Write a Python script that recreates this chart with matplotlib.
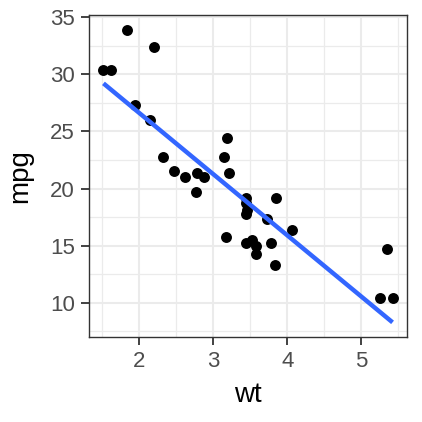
import matplotlib
matplotlib.use("Agg")
import matplotlib.pyplot as plt
import numpy as np

# mtcars: weight (1000 lbs) and miles per gallon
wt = [2.620, 2.875, 2.320, 3.215, 3.440, 3.460, 3.570, 3.190, 3.150, 3.440, 3.440,
      4.070, 3.730, 3.780, 5.250, 5.424, 5.345, 2.200, 1.615, 1.835, 2.465, 3.520,
      3.435, 3.840, 3.845, 1.935, 2.140, 1.513, 3.170, 2.770, 3.570, 2.780]
mpg = [21.0, 21.0, 22.8, 21.4, 18.7, 18.1, 14.3, 24.4, 22.8, 19.2, 17.8,
       16.4, 17.3, 15.2, 10.4, 10.4, 14.7, 32.4, 30.4, 33.9, 21.5, 15.5,
       15.2, 13.3, 19.2, 27.3, 26.0, 30.4, 15.8, 19.7, 15.0, 21.4]
x_ticks = [2, 3, 4, 5]
y_ticks = [10, 15, 20, 25, 30, 35]

plt.rcParams['font.family'] = ['Liberation Sans', 'DejaVu Sans']

x = np.array(wt)
y = np.array(mpg)
slope, intercept = np.polyfit(x, y, 1)
xf = np.linspace(x.min(), x.max(), 80)
yf = intercept + slope * xf

fig = plt.figure(figsize=(4.22, 4.22), dpi=100)
ax = fig.add_axes([89 / 422, 1 - 337 / 422, (407 - 89) / 422, (337 - 15) / 422])

# ggplot-style 5% expansion
xlo, xhi = x.min(), x.max()
ylo, yhi = min(y.min(), yf.min()), max(y.max(), yf.max())
ax.set_xlim(xlo - 0.05 * (xhi - xlo), xhi + 0.05 * (xhi - xlo))
ax.set_ylim(ylo - 0.05 * (yhi - ylo), yhi + 0.05 * (yhi - ylo))

ax.set_xticks(x_ticks)
ax.set_yticks(y_ticks)
ax.set_xticks([1.5, 2.5, 3.5, 4.5, 5.5], minor=True)
ax.set_yticks([7.5, 12.5, 17.5, 22.5, 27.5, 32.5], minor=True)
ax.grid(which='major', color='#EBEBEB', linewidth=1.5, zorder=0)
ax.grid(which='minor', color='#EBEBEB', linewidth=0.9, zorder=0)
ax.set_axisbelow(True)

ax.scatter(x, y, s=62, color='black', zorder=3, linewidths=0)
ax.plot(xf, yf, color='#3366FF', linewidth=3.2, zorder=4, solid_capstyle='butt')

for sp in ax.spines.values():
    sp.set_color('#333333')
    sp.set_linewidth(1.0)
ax.tick_params(which='major', length=5.5, width=1.3, color='#333333',
               labelsize=16, labelcolor='#4D4D4D', pad=4.5)
ax.tick_params(which='minor', length=0)

ax.set_xlabel('wt', fontsize=20, labelpad=7)
ax.set_ylabel('mpg', fontsize=20, labelpad=12)

fig.savefig('out.png', dpi=100)
